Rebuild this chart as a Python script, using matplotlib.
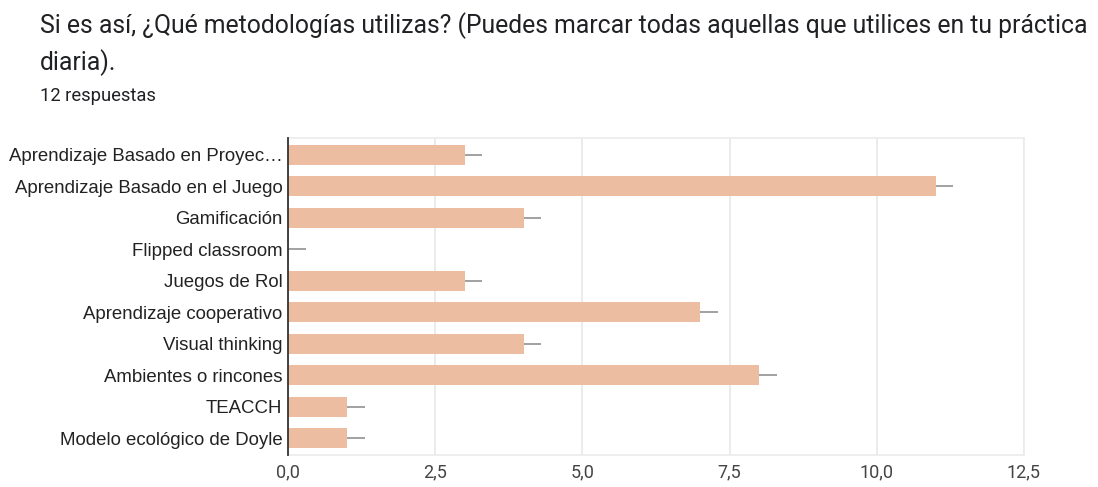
import matplotlib
matplotlib.use("Agg")
import matplotlib.pyplot as plt
from matplotlib.ticker import FixedLocator

categories = [
    "Aprendizaje Basado en Proyec…",
    "Aprendizaje Basado en el Juego",
    "Gamificación",
    "Flipped classroom",
    "Juegos de Rol",
    "Aprendizaje cooperativo",
    "Visual thinking",
    "Ambientes o rincones",
    "TEACCH",
    "Modelo ecológico de Doyle",
]
values = [3, 11, 4, 0, 3, 7, 4, 8, 1, 1]
xticks = [0, 2.5, 5, 7.5, 10, 12.5]
xtick_labels = ["0,0", "2,5", "5,0", "7,5", "10,0", "12,5"]
title_lines = ["Si es así, ¿Qué metodologías utilizas? (Puedes marcar todas aquellas que utilices en tu práctica",
               "diaria)."]
subtitle = "12 respuestas"

W, H = 1098, 487
fig = plt.figure(figsize=(W / 100, H / 100), dpi=100)
ax = fig.add_axes([288 / W, 1 - 455 / H, (1024 - 288) / W, (455 - 138) / H])

pos = list(range(len(categories)))
ax.barh(pos, values, height=0.64, color="#ECBDA0", zorder=3)
whisk = 0.3
ax.hlines(pos, values, [v + whisk for v in values], color="#9a9a9a", lw=1.3, zorder=3)

ax.set_xlim(0, 12.5)
ax.set_ylim(len(categories) - 0.46, -0.54)
ax.set_yticks(pos)
ax.set_yticklabels(categories, fontsize=13.4, family="Liberation Sans", color="#222222")
ax.xaxis.set_major_locator(FixedLocator(xticks))
ax.set_xticklabels(xtick_labels, fontsize=13, family="Roboto", color="#444444")
ax.tick_params(axis="both", length=0)
ax.tick_params(axis="x", pad=6)
ax.tick_params(axis="y", pad=4)
ax.grid(axis="x", color="#e8e8e8", lw=1.2, zorder=0)
for s in ["top", "right", "bottom"]:
    ax.spines[s].set_color("#ebebeb")
    ax.spines[s].set_linewidth(1.2)
ax.spines["left"].set_color("#333333")
ax.spines["left"].set_linewidth(1.3)
ax.spines["left"].set_zorder(4)

fig.text(40 / W, 1 - 33 / H, title_lines[0], fontsize=17.8, family="Roboto", color="#202124",
         va="baseline", ha="left")
fig.text(40 / W, 1 - 70 / H, title_lines[1], fontsize=17.8, family="Roboto", color="#202124",
         va="baseline", ha="left")
fig.text(40 / W, 1 - 101 / H, subtitle, fontsize=13.2, family="Roboto", color="#202124",
         va="baseline", ha="left")

fig.savefig("out.png", dpi=100)
